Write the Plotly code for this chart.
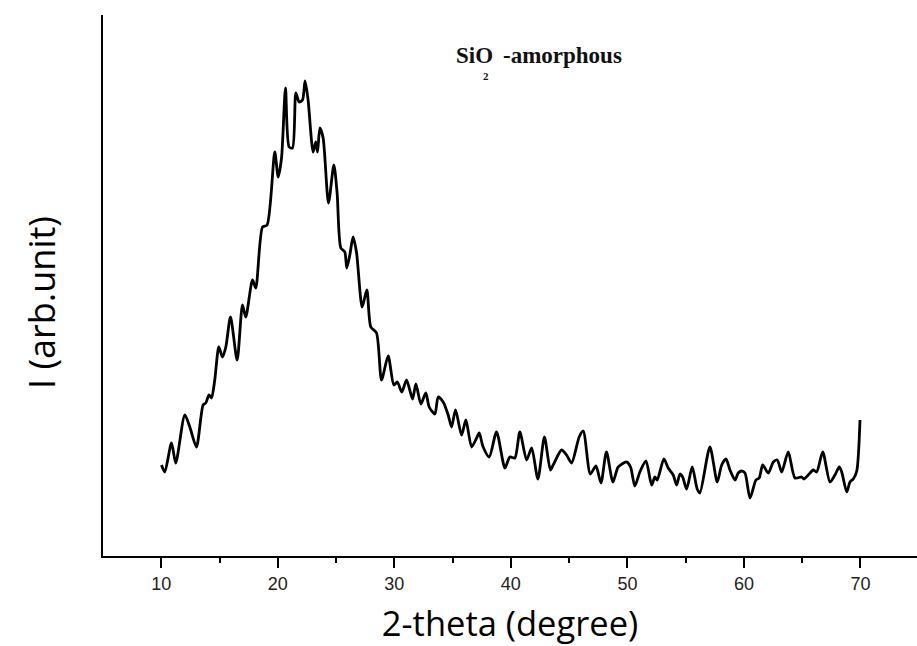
import plotly.graph_objects as go

# XRD pattern of amorphous SiO2 (intensity in arbitrary units)
two_theta = [
    10.02, 10.30, 10.88, 11.24, 12.02, 12.45, 13.02, 13.59, 13.82, 14.10,
    14.31, 14.59, 14.94, 15.25, 15.54, 15.94, 16.51, 16.97, 17.25, 17.83,
    18.11, 18.69, 19.08, 19.74, 20.03, 20.32, 20.66, 20.97, 21.26, 21.55,
    21.83, 22.12, 22.34, 22.60, 23.03, 23.26, 23.41, 23.61, 23.89, 24.35,
    24.81, 25.09, 25.41, 25.75, 25.92, 26.18, 26.46, 26.76, 27.24, 27.64,
    27.98, 28.47, 28.90, 29.47, 29.96, 30.26, 30.64, 31.05, 31.56, 31.85,
    32.28, 32.70, 32.99, 33.48, 33.76, 34.19, 34.62, 34.91, 35.25, 35.77,
    36.14, 36.63, 37.06, 37.28, 37.62, 38.14, 38.77, 39.49, 39.91, 40.34,
    40.77, 41.35, 41.78, 42.32, 42.88, 43.39, 43.63, 44.35, 44.78, 45.21,
    45.86, 46.21, 46.82, 47.30, 47.73, 48.20, 48.76, 49.21, 49.93, 50.27,
    50.64, 51.07, 51.59, 52.08, 52.36, 52.56, 53.13, 53.50, 53.93, 54.22,
    54.51, 54.74, 55.08, 55.56, 55.99, 56.22, 57.08, 57.71, 58.09, 58.46,
    58.80, 59.23, 59.51, 59.80, 60.09, 60.52, 61.03, 61.31, 61.61, 62.09,
    62.52, 62.86, 63.24, 63.80, 64.38, 64.95, 65.15, 65.52, 65.95, 66.24,
    66.76, 67.38, 67.81, 68.18, 68.39, 68.82, 69.10, 69.38, 69.68, 69.96,
]
intensity = [
    91, 84, 113, 93, 141, 129, 109, 151, 153, 161,
    158, 176, 209, 199, 209, 239, 196, 251, 239, 276,
    268, 329, 331, 404, 379, 398, 468, 409, 408, 463,
    454, 456, 475, 456, 404, 414, 404, 428, 418, 353,
    391, 363, 308, 304, 288, 301, 319, 303, 249, 266,
    229, 223, 176, 200, 171, 174, 164, 176, 157, 172,
    152, 163, 149, 142, 159, 154, 141, 129, 146, 121,
    136, 109, 118, 123, 109, 99, 124, 88, 99, 98,
    124, 96, 108, 77, 119, 86, 91, 106, 101, 93,
    119, 125, 82, 90, 73, 104, 74, 89, 94, 89,
    70, 84, 95, 71, 79, 76, 97, 88, 81, 71,
    82, 79, 67, 89, 67, 63, 109, 74, 91, 97,
    86, 76, 83, 85, 83, 58, 76, 78, 91, 83,
    94, 96, 84, 104, 78, 79, 77, 81, 86, 84,
    104, 74, 81, 89, 84, 64, 74, 77, 85, 136,
]

x_ticks = [10, 20, 30, 40, 50, 60, 70]
x_minor = [15, 25, 35, 45, 55, 65]

fig = go.Figure(
    go.Scatter(
        x=two_theta,
        y=intensity,
        mode="lines",
        line=dict(color="black", width=2.8, shape="spline", smoothing=0.7),
        hoverinfo="x+y",
    )
)

title_font = dict(family="Open Sans, sans-serif", color="black")

fig.update_layout(
    width=917,
    height=646,
    margin=dict(l=103, r=0, t=15, b=90),
    plot_bgcolor="white",
    paper_bgcolor="white",
    showlegend=False,
    xaxis=dict(
        range=[5, 74.85],
        showgrid=False,
        zeroline=False,
        showline=True,
        linecolor="black",
        linewidth=2,
        ticks="outside",
        ticklen=10,
        tickwidth=2,
        tickcolor="black",
        tickvals=x_ticks,
        ticktext=[str(t) for t in x_ticks],
        tickfont=dict(family="Liberation Sans, Arial, sans-serif", size=18, color="#222"),
        minor=dict(tickvals=x_minor, ticks="outside",
                   ticklen=5, tickwidth=2, tickcolor="black"),
        title=dict(text="2-theta (degree)", font=dict(size=34.5, **title_font),
                   standoff=20),
    ),
    yaxis=dict(
        range=[0, 541],
        showgrid=False,
        zeroline=False,
        showline=True,
        linecolor="black",
        linewidth=2,
        ticks="",
        showticklabels=False,
    ),
)

# vertical axis label, placed slightly below the plot's vertical centre
fig.add_annotation(xref="paper", yref="paper", x=(41 - 103) / 814, y=(556 - 302) / 541,
                   xanchor="center", yanchor="middle", showarrow=False, textangle=-90,
                   text="I (arb.unit)", font=dict(size=36, **title_font))

serif = dict(family="Liberation Serif, Times New Roman, serif", color="#111")
fig.add_annotation(xref="paper", yref="paper", x=(454 - 103) / 814, y=(556 - 55) / 541,
                   xanchor="left", yanchor="middle", showarrow=False,
                   text="<b>SiO</b>", font=dict(size=23, **serif))
fig.add_annotation(xref="paper", yref="paper", x=(486 - 103) / 814, y=(556 - 76) / 541,
                   xanchor="center", yanchor="middle", showarrow=False,
                   text="<b>2</b>", font=dict(size=11, **serif))
fig.add_annotation(xref="paper", yref="paper", x=(501 - 103) / 814, y=(556 - 55) / 541,
                   xanchor="left", yanchor="middle", showarrow=False,
                   text="<b>-amorphous</b>", font=dict(size=23, **serif))

fig.write_html("out.html")
